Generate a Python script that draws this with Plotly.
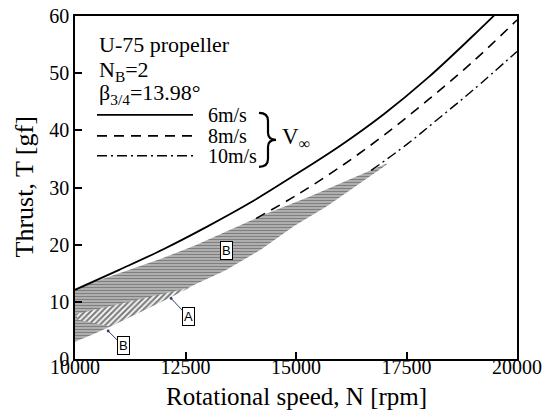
import plotly.graph_objects as go

# ---- data ----
speed_6 = [10000, 11000, 12000, 13000, 14000, 15000, 16000, 17000, 18000, 19000, 20000]
thrust_6 = [12.1, 15.6, 19.2, 23.2, 27.5, 32.3, 37.3, 42.9, 49.3, 56.5, 64.0]

speed_8 = [14100, 15000, 16000, 17000, 18000, 19000, 20000]
thrust_8 = [24.6, 28.6, 33.6, 39.2, 45.4, 52.0, 59.3]

speed_10 = [16700, 17500, 18200, 19000, 20000]
thrust_10 = [33.0, 37.5, 41.9, 47.0, 53.8]

# hatched operating region (B) boundaries
regB_top_N = [10000, 10400, 11000, 11900, 12700, 13400, 14200, 15300, 16450, 17050]
regB_top_T = [12.1, 13.4, 15.0, 17.4, 19.8, 22.2, 25.0, 28.4, 32.2, 34.2]
regB_bot_N = [10000, 10400, 10800, 11400, 12000, 12700, 13400, 14200, 14950, 15700, 16450, 17050]
regB_bot_T = [3.0, 4.3, 5.7, 7.9, 10.2, 13.0, 15.5, 19.1, 23.2, 26.7, 30.8, 34.0]

# region A (diagonal hatch) outline
regA_N = [10050, 10800, 11400, 12000, 12600, 12000, 11400, 10800, 10400, 10050]
regA_T = [7.9, 9.25, 10.3, 11.4, 12.5, 10.2, 7.9, 5.7, 6.3, 6.9]

x_ticks = [10000, 12500, 15000, 17500, 20000]
y_ticks = [0, 10, 20, 30, 40, 50, 60]

SERIF = "Liberation Serif, Times New Roman, serif"
SANS = "Liberation Sans, Arial, sans-serif"

fig = go.Figure()

# region B (horizontal hatch)
fig.add_trace(go.Scatter(
    x=regB_top_N + regB_bot_N[::-1], y=regB_top_T + regB_bot_T[::-1],
    fill="toself", mode="lines", line=dict(width=0, color="black"),
    fillcolor="rgba(0,0,0,0)",
    fillpattern=dict(shape="-", fgcolor="black", bgcolor="white", size=3, solidity=0.75),
    hoverinfo="skip", showlegend=False))

# region A (diagonal hatch)
fig.add_trace(go.Scatter(
    x=regA_N, y=regA_T, fill="toself", mode="lines",
    line=dict(width=0, color="black"), fillcolor="rgba(0,0,0,0)",
    fillpattern=dict(shape="/", fgcolor="black", bgcolor="white", size=4, solidity=0.55),
    hoverinfo="skip", showlegend=False))

fig.add_trace(go.Scatter(x=speed_6, y=thrust_6, mode="lines", line_shape="spline",
                         line=dict(color="black", width=1.8), showlegend=False))
fig.add_trace(go.Scatter(x=speed_8, y=thrust_8, mode="lines", line_shape="spline",
                         line=dict(color="black", width=1.6, dash="10px,7px"), showlegend=False))
fig.add_trace(go.Scatter(x=speed_10, y=thrust_10, mode="lines", line_shape="spline",
                         line=dict(color="black", width=1.4, dash="10px,4px,2px,4px"), showlegend=False))

# page has an 8px body margin: figure is drawn 8px right/down
OFF = 8
W, H = 552 - OFF, 419 - OFF
PL, PR, PT, PB = 75, 517, 16, 359.5     # target plot box in page pixels
L, R, T, B = PL - OFF, W + OFF - PR, PT - OFF, H + OFF - PB
pw, ph = PR - PL, PB - PT


def px(x):
    return (x - PL) / pw


def py(y):
    return (PB - y) / ph


def tfont(size, fam=SERIF):
    return dict(family=fam, size=size, color="black")


ann = []
# legend-like block
ann.append(dict(text="U-75 propeller", x=px(97), y=py(45), xref="paper", yref="paper",
                xanchor="left", yanchor="middle", showarrow=False, font=tfont(22)))
ann.append(dict(text="N<sub>B</sub>=2", x=px(97), y=py(71), xref="paper", yref="paper",
                xanchor="left", yanchor="middle", showarrow=False, font=tfont(22)))
ann.append(dict(text="β<sub>3/4</sub>=13.98°", x=px(97), y=py(94), xref="paper", yref="paper",
                xanchor="left", yanchor="middle", showarrow=False, font=tfont(22)))
for lab, yy in [("6m/s", 115), ("8m/s", 136), ("10m/s", 156)]:
    ann.append(dict(text=lab, x=px(206), y=py(yy), xref="paper", yref="paper",
                    xanchor="left", yanchor="middle", showarrow=False, font=tfont(20)))
ann.append(dict(text="V<sub>∞</sub>", x=px(280), y=py(138), xref="paper", yref="paper",
                xanchor="left", yanchor="middle", showarrow=False, font=tfont(23)))

# axis titles
ann.append(dict(text="Rotational speed, N [rpm]", x=0.5, y=py(397), xref="paper", yref="paper",
                xanchor="center", yanchor="middle", showarrow=False, font=tfont(25)))
ann.append(dict(text="Thrust, T [gf]", x=px(24), y=0.5, xref="paper", yref="paper",
                xanchor="center", yanchor="middle", showarrow=False, textangle=-90,
                font=tfont(26)))

# boxed labels
box = dict(bordercolor="black", borderwidth=1, bgcolor="white", borderpad=1,
           font=tfont(13, SANS))
ann.append(dict(text="A", x=12174, y=10.6, xref="x", yref="y", showarrow=True,
                ax=17, ay=18, arrowhead=6, arrowsize=0.7, arrowwidth=1, **box))
ann.append(dict(text="B", x=10750, y=4.9, xref="x", yref="y", showarrow=True,
                ax=15, ay=15, arrowhead=6, arrowsize=0.7, arrowwidth=1, **box))
ann.append(dict(text="B", x=13436, y=19.0, xref="x", yref="y", showarrow=False, **box))

shapes = []
for yy, dash in [(115, "solid"), (136, "10px,7px"), (156, "10px,4px,2px,4px")]:
    shapes.append(dict(type="line", xref="paper", yref="paper", x0=px(97), x1=px(193),
                       y0=py(yy), y1=py(yy), line=dict(color="black", width=1.6, dash=dash)))

# curly brace
path = (f"M {px(259)},{py(113)} Q {px(268)},{py(113)} {px(268)},{py(121)} "
        f"L {px(268)},{py(133)} Q {px(268)},{py(140)} {px(276)},{py(140)} "
        f"Q {px(268)},{py(140)} {px(268)},{py(147)} L {px(268)},{py(159)} "
        f"Q {px(268)},{py(167)} {px(259)},{py(167)}")
shapes.append(dict(type="path", xref="paper", yref="paper", path=path,
                   line=dict(color="black", width=2.2)))

fig.update_layout(
    width=W, height=H, margin=dict(l=L, r=R, t=T, b=B, autoexpand=False),
    paper_bgcolor="white", plot_bgcolor="white",
    font=tfont(20),
    annotations=ann, shapes=shapes,
    xaxis=dict(range=[10000, 20000], tickvals=x_ticks, ticktext=[str(v) for v in x_ticks],
               ticks="inside", ticklen=7, tickwidth=1.5, tickcolor="black",
               showline=True, linecolor="black", linewidth=1.6, mirror=True,
               showgrid=False, zeroline=False, tickfont=tfont(20), automargin=False,
               ticklabelstandoff=-11, ticklabeloverflow="allow"),
    yaxis=dict(range=[0, 60], tickvals=y_ticks,
               ticks="inside", ticklen=7, tickwidth=1.5, tickcolor="black",
               showline=True, linecolor="black", linewidth=1.6, mirror=True,
               showgrid=False, zeroline=False, tickfont=tfont(20), automargin=False,
               ticklabeloverflow="allow"),
)

fig.write_html("out.html")
